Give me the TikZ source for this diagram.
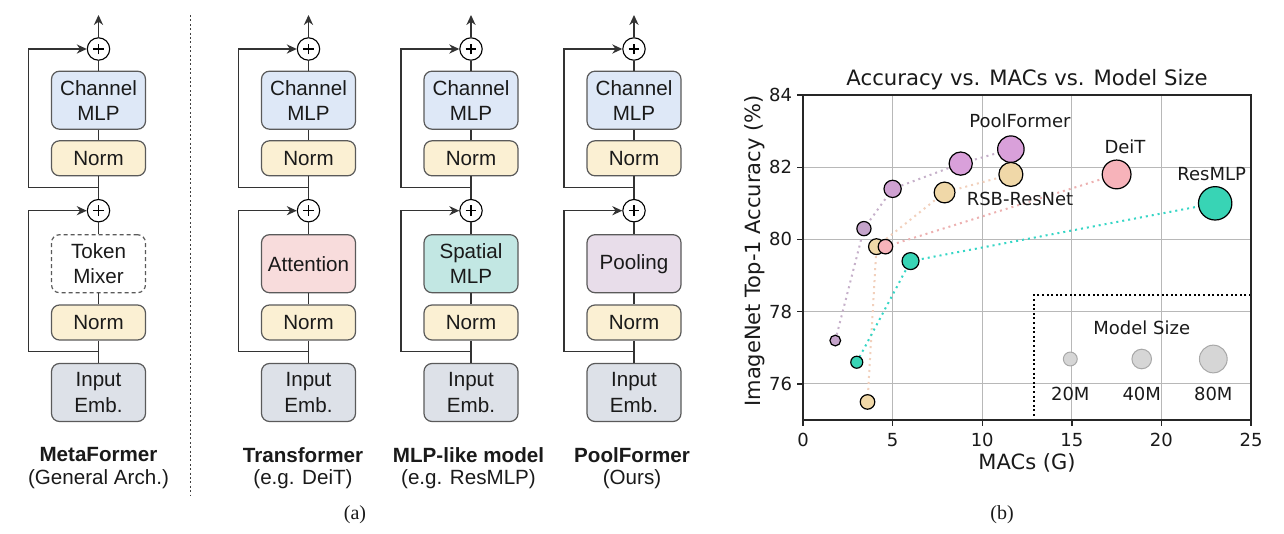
\documentclass[tikz,border=0pt]{standalone}
\usepackage{fontspec}
\setmainfont{Liberation Sans}
\newfontfamily\dejavu{DejaVu Sans}
\newfontfamily\timesf{Liberation Serif}
\usetikzlibrary{arrows.meta}
\definecolor{mlpcol}{HTML}{DEE8F7}
\definecolor{normcol}{HTML}{FBF0D3}
\definecolor{embcol}{HTML}{DDE1E8}
\definecolor{attcol}{HTML}{F8DCDC}
\definecolor{spatcol}{HTML}{C2E7E3}
\definecolor{poolcol}{HTML}{E8DDEA}
\definecolor{boxborder}{HTML}{5A5A5A}
\definecolor{txt}{HTML}{1A1A1A}
\definecolor{gridc}{HTML}{B8B8B8}
\definecolor{pfA}{HTML}{C4A3CA}
\definecolor{pfB}{HTML}{D9A0DA}
\definecolor{rnc}{HTML}{F0D8A8}
\definecolor{dtc}{HTML}{F7B3BA}
\definecolor{rmc}{HTML}{38D4B5}
\definecolor{pfline}{HTML}{C6B0CA}
\definecolor{rnline}{HTML}{F2D0BC}
\definecolor{dtline}{HTML}{EDB0B0}
\definecolor{rmline}{HTML}{35D6C6}
\definecolor{legc}{HTML}{D6D6D6}
\definecolor{legb}{HTML}{A8A8A8}
\tikzset{
  blk/.style={draw=boxborder, line width=0.6pt, rounded corners=4pt, minimum width=47pt,
    inner sep=0pt, align=center, text=txt, font=\fontsize{10.3}{12.6}\selectfont},
  tall/.style={blk, minimum height=29pt},
  short/.style={blk, minimum height=17.5pt},
  tokdash/.style={dash pattern=on 2pt off 1.5pt},
  plainline/.style={},
  plus/.style={circle, draw=black, fill=white, line width=0.55pt, minimum size=11.2pt, inner sep=0pt,
    path picture={\draw[line width=0.55pt]
      ([xshift=-2.7pt]path picture bounding box.center) -- ([xshift=2.7pt]path picture bounding box.center)
      ([yshift=-2.7pt]path picture bounding box.center) -- ([yshift=2.7pt]path picture bounding box.center);}},
  conn/.style={draw=black!80, line width=0.6pt},
  arr/.style={conn, -{Stealth[length=5pt,width=4.6pt]}},
  lab/.style={text=txt, font=\fontsize{10.3}{12.6}\selectfont},
  blab/.style={text=txt, font=\fontsize{10.3}{12.6}\selectfont\bfseries},
  ptxt/.style={text=txt, font=\dejavu\fontsize{9}{11}\selectfont, inner sep=0pt},
  ser/.style={line width=1pt, dash pattern=on 1pt off 2pt},
  bub/.style={draw=black, line width=0.6pt},
  axisl/.style={draw=black!85, line width=0.7pt},
}
\begin{document}
\begin{tikzpicture}[x=0.5pt,y=-0.5pt]
\useasboundingbox (0,0) rectangle (1284,534);
\fill[white] (0,0) rectangle (1284,534);

% ---------- (a) architectures ----------
\foreach \cx/\nm/\mix/\mfill/\mst in {98.5/meta/{Token\\Mixer}/white/tokdash, 308.5/trans/Attention/attcol/plainline, 471/mlp/{Spatial\\MLP}/spatcol/plainline, 634/pool/Pooling/poolcol/plainline}{
  \coordinate (s1\nm) at (\cx,351.7);
  \coordinate (s2\nm) at (\cx,187.7);
  \coordinate (l1\nm) at (\cx-70,351.7);
  \coordinate (l2\nm) at (\cx-70,187.7);
  \coordinate (top\nm) at (\cx,15);
  \node[tall, fill=embcol] (in\nm) at (\cx,392.5) {Input\\Emb.};
  \node[short, fill=normcol] (na\nm) at (\cx,322.5) {Norm};
  \node[tall, fill=\mfill, \mst] (mx\nm) at (\cx,263.7) {\mix};
  \node[plus] (pa\nm) at (\cx,210.7) {};
  \node[short, fill=normcol] (nb\nm) at (\cx,158.3) {Norm};
  \node[tall, fill=mlpcol] (ch\nm) at (\cx,100.2) {Channel\\MLP};
  \node[plus] (pb\nm) at (\cx,49) {};
  \draw[conn] (in\nm.north) -- (na\nm.south);
  \draw[conn] (na\nm.north) -- (mx\nm.south);
  \draw[conn] (mx\nm.north) -- (pa\nm.south);
  \draw[conn] (pa\nm.north) -- (nb\nm.south);
  \draw[conn] (nb\nm.north) -- (ch\nm.south);
  \draw[conn] (ch\nm.north) -- (pb\nm.south);
  \draw[arr] (pb\nm.north) -- (top\nm);
  \draw[arr] (s1\nm) -- (l1\nm) |- (pa\nm.west);
  \draw[arr] (s2\nm) -- (l2\nm) |- (pb\nm.west);
}

\coordinate (sepT) at (190.7,15);
\coordinate (sepB) at (190.7,495);
\draw[draw=black!75, line width=0.6pt, dash pattern=on 1pt off 1.2pt] (sepT) -- (sepB);

\node[blab] (t1) at (98.5,455) {MetaFormer};
\node[lab]  (u1) at (98.5,479.3) {(General Arch.)};
\node[blab] (t2) at (303,455) {Transformer};
\node[lab]  (u2) at (303,479.3) {(e.g. DeiT)};
\node[blab] (t3) at (468.5,455) {MLP-like model};
\node[lab]  (u3) at (468.5,479.3) {(e.g. ResMLP)};
\node[blab] (t4) at (632,455) {PoolFormer};
\node[lab]  (u4) at (632,479.3) {(Ours)};
\node[text=txt, font=\timesf\fontsize{10}{12}\selectfont] (capa) at (355,515) {(a)};
\node[text=txt, font=\timesf\fontsize{10}{12}\selectfont] (capb) at (1002,515) {(b)};

% ---------- (b) plot ----------
\begin{scope}[shift={(803,420)}, x=8.96pt, y=18.056pt, shift={(0,-75)}]
  \foreach \gx in {5,10,15,20} \draw[gridc, line width=0.5pt] (\gx,75) -- (\gx,84);
  \foreach \gy in {76,78,80,82} \draw[gridc, line width=0.5pt] (0,\gy) -- (25,\gy);

  \coordinate (pf1) at (1.8,77.2);
  \coordinate (pf2) at (3.4,80.3);
  \coordinate (pf3) at (5.0,81.4);
  \coordinate (pf4) at (8.8,82.1);
  \coordinate (pf5) at (11.6,82.5);
  \coordinate (rn1) at (3.6,75.5);
  \coordinate (rn2) at (4.1,79.8);
  \coordinate (rn3) at (7.9,81.3);
  \coordinate (rn4) at (11.6,81.8);
  \coordinate (dt1) at (4.6,79.8);
  \coordinate (dt2) at (17.5,81.8);
  \coordinate (rm1) at (3.0,76.6);
  \coordinate (rm2) at (6.0,79.4);
  \coordinate (rm3) at (23.0,81.0);

  \draw[ser, pfline] (pf1) -- (pf2) -- (pf3) -- (pf4) -- (pf5);
  \draw[ser, rnline] (rn1) -- (rn2) -- (rn3) -- (rn4);
  \draw[ser, dtline] (dt1) -- (dt2);
  \draw[ser, rmline] (rm1) -- (rm2) -- (rm3);

  % legend box (dotted)
  \coordinate (lgA) at (25,78.46);
  \coordinate (lgB) at (12.9,78.46);
  \coordinate (lgC) at (12.9,75);
  \draw[black, line width=1pt, dash pattern=on 1pt off 1.3pt] (lgA) -- (lgB) -- (lgC);

  \draw[axisl] (0,75) rectangle (25,84);
  \foreach \gx in {0,5,10,15,20,25}{
    \draw[axisl] (\gx,75) -- ++(0pt,-3pt);
    \node[ptxt] (xt\gx) at (\gx,75) [yshift=-10pt] {\gx};
  }
  \foreach \gy in {76,78,80,82,84}{
    \draw[axisl] (0,\gy) -- ++(-3pt,0pt);
    \node[ptxt, anchor=east] (yt\gy) at (0,\gy) [xshift=-5.3pt] {\gy};
  }

  \fill[pfA] (pf1) circle[radius=2.68pt]; \draw[bub] (pf1) circle[radius=2.68pt];
  \fill[pfA] (pf2) circle[radius=3.55pt]; \draw[bub] (pf2) circle[radius=3.55pt];
  \fill[pfA!50!pfB] (pf3) circle[radius=4.31pt]; \draw[bub] (pf3) circle[radius=4.31pt];
  \fill[pfB] (pf4) circle[radius=5.80pt]; \draw[bub] (pf4) circle[radius=5.80pt];
  \fill[pfB] (pf5) circle[radius=6.62pt]; \draw[bub] (pf5) circle[radius=6.62pt];
  \fill[rnc] (rn1) circle[radius=3.63pt]; \draw[bub] (rn1) circle[radius=3.63pt];
  \fill[rnc] (rn2) circle[radius=3.95pt]; \draw[bub] (rn2) circle[radius=3.95pt];
  \fill[dtc] (dt1) circle[radius=3.63pt]; \draw[bub] (dt1) circle[radius=3.63pt];
  \fill[rnc] (rn3) circle[radius=5.20pt]; \draw[bub] (rn3) circle[radius=5.20pt];
  \fill[rnc] (rn4) circle[radius=6.00pt]; \draw[bub] (rn4) circle[radius=6.00pt];
  \fill[dtc] (dt2) circle[radius=7.19pt]; \draw[bub] (dt2) circle[radius=7.19pt];
  \fill[rmc] (rm1) circle[radius=3.00pt]; \draw[bub] (rm1) circle[radius=3.00pt];
  \fill[rmc] (rm2) circle[radius=4.24pt]; \draw[bub] (rm2) circle[radius=4.24pt];
  \fill[rmc] (rm3) circle[radius=8.35pt]; \draw[bub] (rm3) circle[radius=8.35pt];
\end{scope}

\node[text=txt, font=\dejavu\fontsize{10.6}{12}\selectfont] (title) at (1027,79.3) {Accuracy vs. MACs vs. Model Size};
\node[text=txt, font=\dejavu\fontsize{10.5}{12}\selectfont] (xlab) at (1027,463) {MACs (G)};
\node[text=txt, font=\dejavu\fontsize{10.5}{12}\selectfont, rotate=90] (ylab) at (755,251) {ImageNet Top-1 Accuracy (\%)};

\node[ptxt] (lpf) at (1020,120.7) {PoolFormer};
\node[ptxt] (lrn) at (1020,199) {RSB-ResNet};
\node[ptxt] (ldt) at (1125,146.7) {DeiT};
\node[ptxt] (lrm) at (1211.7,174.3) {ResMLP};

\node[ptxt] (lms) at (1141.7,327.7) {Model Size};
\coordinate (lg1) at (1070.3,359);
\coordinate (lg2) at (1141.7,359);
\coordinate (lg3) at (1213.3,359);
\fill[legc] (lg1) circle[radius=3.47pt]; \draw[legb, line width=0.5pt] (lg1) circle[radius=3.47pt];
\fill[legc] (lg2) circle[radius=4.90pt]; \draw[legb, line width=0.5pt] (lg2) circle[radius=4.90pt];
\fill[legc] (lg3) circle[radius=6.93pt]; \draw[legb, line width=0.5pt] (lg3) circle[radius=6.93pt];
\node[ptxt] (l20) at (1070.3,394.3) {20M};
\node[ptxt] (l40) at (1141.7,394.3) {40M};
\node[ptxt] (l80) at (1213.3,394.3) {80M};
\end{tikzpicture}
\end{document}
